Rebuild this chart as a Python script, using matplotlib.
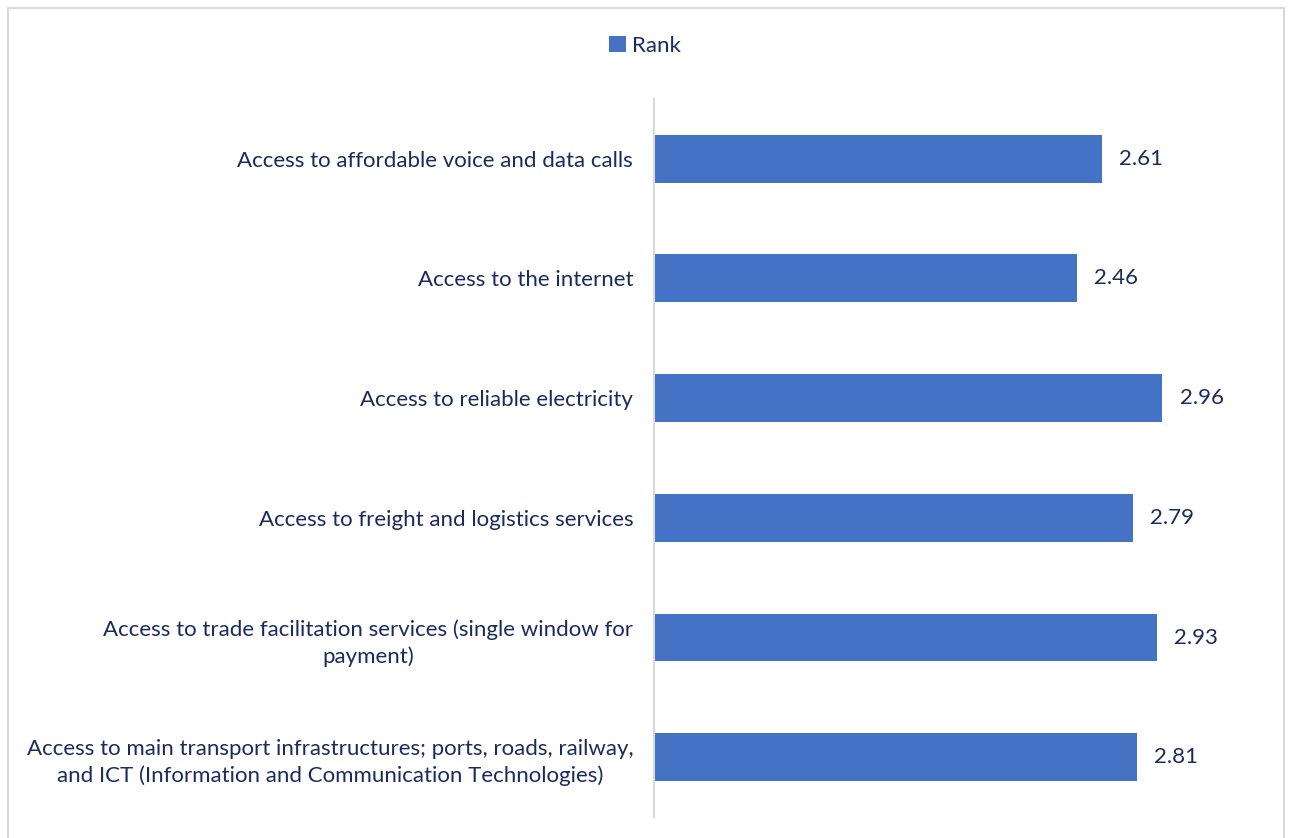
import matplotlib.pyplot as plt
import matplotlib.patches as patches

categories = [
    "Access to affordable voice and data calls",
    "Access to the internet",
    "Access to reliable electricity",
    "Access to freight and logistics services",
    "Access to trade facilitation services (single window for\npayment)",
    "Access to main transport infrastructures; ports, roads, railway,\nand ICT (Information and Communication Technologies)",
]
rank = [2.61, 2.46, 2.96, 2.79, 2.93, 2.81]

bar_color = "#4472C4"
text_color = "#1B2B5E"

plt.rcParams['font.family'] = ['Lato', 'DejaVu Sans']

fig = plt.figure(figsize=(12.9, 8.38), dpi=100)
ax = fig.add_axes([0.507, 0.025, 0.466, 0.857])

y = list(range(len(categories)))
ax.barh(y, rank, height=0.4, color=bar_color, label="Rank")
ax.set_ylim(len(categories) - 0.5, -0.5)
ax.set_xlim(0, 3.5)

for yi, v in zip(y, rank):
    ax.text(v + 0.1, yi, f"{v:.2f}", va='center', ha='left',
            fontsize=16, color=text_color)

ax.set_yticks(y)
ax.set_yticklabels(categories, fontsize=16, color=text_color,
                   multialignment='center', linespacing=1.4)
ax.tick_params(axis='y', length=0, pad=15)
ax.set_xticks([])
for s in ['top', 'right', 'bottom']:
    ax.spines[s].set_visible(False)
ax.spines['left'].set_color('#D9D9D9')
ax.spines['left'].set_linewidth(1.5)

# legend above the plot
fig.legend(loc='center', bbox_to_anchor=(0.5, 0.945), frameon=False,
           fontsize=16, handlelength=0.75, handleheight=0.75,
           handletextpad=0.25, labelcolor=text_color)

# outer chart border
border = patches.Rectangle((0.006, -0.02), 0.989, 1.01, transform=fig.transFigure,
                           fill=False, ec='#D9D9D9', lw=1.5)
fig.patches.append(border)

fig.savefig("out.png", dpi=100)
